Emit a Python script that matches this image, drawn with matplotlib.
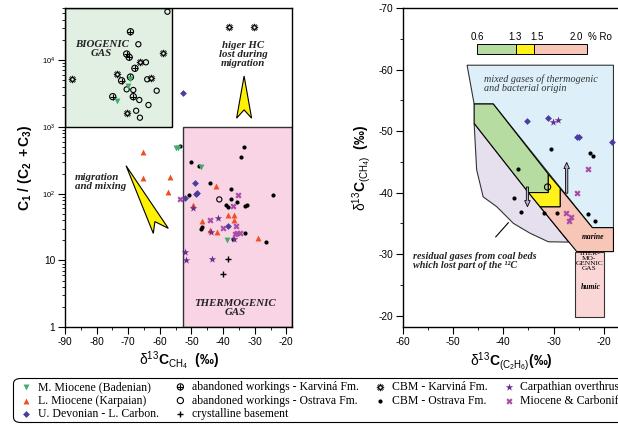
import matplotlib
matplotlib.use("Agg")
import matplotlib.pyplot as plt
from matplotlib.patches import Polygon, Rectangle, FancyArrow, FancyBboxPatch
from matplotlib.legend_handler import HandlerTuple
from matplotlib.ticker import MultipleLocator, NullFormatter, LogLocator

plt.rcParams['font.family'] = ['Liberation Sans', 'DejaVu Sans']
plt.rcParams['mathtext.fontset'] = 'custom'
plt.rcParams['mathtext.rm'] = 'Liberation Sans'
plt.rcParams['mathtext.it'] = 'Liberation Sans:italic'
plt.rcParams['mathtext.bf'] = 'Liberation Sans:bold'
plt.rcParams['axes.unicode_minus'] = False

# ---------------- data: left plot (d13C CH4 vs C1/(C2+C3)) ----------------
mmio_x = [-69.4, -70.1, -73.4, -54.9, -54.2, -46.9, -38.8]
mmio_y = [5140, 4080, 2460, 476, 476, 248, 20]

lmio_x = [-65.2, -65.4, -56.8, -57.3, -49.6, -42.2, -38.6, -36.7, -36.7, -46.7, -44.1, -42.0, -29.1]
lmio_y = [424, 173, 179, 107, 67, 130, 48, 48, 41, 39, 29, 27, 22]

udev_x = [-52.6, -48.9, -48.3, -48.5, -52.0, -38.3]
udev_y = [3160, 146, 102, 99, 85, 33]

awk_x = [-69.3, -70.5, -69.7, -67.9, -72.1, -69.3, -74.9, -68.4]
awk_y = [26500, 12300, 11000, 7510, 4900, 5560, 2830, 2830]

awo_x = [-57.6, -66.8, -64.4, -64.0, -70.5, -68.4, -61.0, -66.5, -63.6, -67.5, -66.3, -41.2]
awo_y = [52800, 17200, 9240, 5140, 3640, 3560, 3470, 2520, 2120, 1740, 1370, 82]

cryst_x = [-38.5, -40.1]
cryst_y = [10.4, 6.25]

cbmk_x = [-58.9, -66.2, -62.9, -87.8, -73.6, -70.3, -38.2, -30.2]
cbmk_y = [12600, 9430, 5320, 5140, 6240, 1590, 30900, 30900]

cbmo_x = [-53.6, -33.4, -34.4, -50.1, -47.7, -44.1, -37.6, -50.7, -24.3, -37.5, -35.7,
          -39.1, -38.6, -33.0, -32.5, -46.7, -47.1, -33.0, -26.5, -36.8]
cbmo_y = [521, 493, 357, 297, 262, 143, 116, 95, 94, 84, 76,
          68, 64, 65, 67, 32, 30, 25.4, 19, 21]

carp_x = [-49.6, -41.5, -43.9, -52.0, -51.7, -43.4, -36.5]
carp_y = [60, 43, 27, 13.5, 10.1, 10.7, 21]

mioc_x = [-53.6, -35.2, -37.0, -44.1, -39.9, -35.9, -36.2, -35.5, -34.8]
mioc_y = [82, 95, 65, 40, 31, 33, 25, 25.4, 26]

# ---------------- data: right plot (d13C C2H6 vs d13C CH4) ----------------
r_udev_x = [-35.2, -31.1, -25.4, -25.0, -18.3]
r_udev_y = [-51.7, -52.2, -49.0, -49.0, -48.2]
r_carp_x = [-30.1, -29.1]
r_carp_y = [-51.5, -51.8]
r_cbmo_x = [-30.6, -22.8, -22.1, -37.0, -37.9, -36.5, -31.9, -29.4, -23.1, -21.8]
r_cbmo_y = [-47.1, -46.5, -46.0, -43.9, -39.1, -36.9, -36.6, -36.6, -36.5, -35.4]
r_mioc_x = [-23.2, -25.4, -27.5, -26.5, -27.0]
r_mioc_y = [-43.9, -39.9, -36.6, -36.1, -35.4]
r_awo_x = [-31.2]
r_awo_y = [-40.9]

# genetic fields of the right diagram (x = d13C C2H6, y = d13C CH4)
mixed_field = [(-47.2, -60.7), (-18.1, -60.7), (-18.1, -34.3), (-22.3, -34.3),
               (-42.0, -54.4), (-45.8, -54.4)]
residual_field = [(-45.8, -51.25), (-45.3, -43.7), (-44.0, -39.3), (-41.3, -37.7),
                  (-38.0, -35.0), (-34.7, -33.4), (-31.05, -32.0), (-27.0, -31.95),
                  (-32.7, -37.7), (-35.0, -40.0)]
ro_06_13 = [(-45.8, -54.4), (-42.0, -54.4), (-31.05, -43.0), (-31.05, -40.0),
            (-35.0, -40.0), (-45.8, -51.25)]
ro_13_15 = [(-31.05, -43.0), (-28.7, -40.7), (-28.7, -37.7), (-32.7, -37.7),
            (-35.0, -40.0), (-31.05, -40.0)]
ro_15_20 = [(-28.7, -40.7), (-22.3, -34.3), (-18.1, -34.3), (-18.1, -30.4),
            (-25.4, -30.4), (-32.7, -37.7), (-28.7, -37.7)]
humic_box = [(-25.7, -30.4), (-20.0, -30.4), (-20.0, -19.8), (-25.7, -19.8)]

ro_ticks = ["0.6", "1.3", "1.5", "2.0"]

C_GREEN = '#3fae6a'
C_RED = '#f04e23'
C_BLUE = '#4b3c9e'
C_PURPLE = '#6a2c91'
C_MAGENTA = '#a94ca6'

fig = plt.figure(figsize=(6.18, 4.24), dpi=100)
ax1 = fig.add_axes([65 / 618, 96.7 / 424, 227 / 618, 319.3 / 424])
ax2 = fig.add_axes([402.7 / 618, 96.7 / 424, 217.3 / 618, 319.3 / 424])

serif = ['Liberation Serif', 'DejaVu Serif']

# ---------------- left plot ----------------
ax1.set_yscale('log')
ax1.set_xlim(-90, -18.2)
ax1.set_ylim(1, 60000)

ax1.add_patch(Rectangle((-90, 1000), 34, 59000, facecolor='#e1f0e3', edgecolor='black', lw=1.0, zorder=1))
ax1.add_patch(Rectangle((-52.7, 1), 34.5, 999, facecolor='#f8d4e4', edgecolor='#333333', lw=1.0, zorder=1))

# yellow arrows (axes fraction)
ax1.add_patch(Polygon([(0.789, 0.787), (0.822, 0.655), (0.789, 0.681), (0.756, 0.655)],
                      closed=True, transform=ax1.transAxes, facecolor='#fff200',
                      edgecolor='black', lw=0.8, zorder=2))
ax1.add_patch(Polygon([(0.269, 0.506), (0.455, 0.310), (0.396, 0.331), (0.389, 0.294)],
                      closed=True, transform=ax1.transAxes, facecolor='#fff200',
                      edgecolor='black', lw=0.8, zorder=2))

txt = dict(family=serif, style='italic', weight='bold', fontsize=7.8, color='#222222')
ax1.text(-78.4, 14400, "BIOGENIC\nGAS", ha='center', va='center', linespacing=1.0, **txt)
ax1.text(-33.6, 12000, "higer HC\nlost during\nmigration", ha='center', va='center', linespacing=1.0, **txt)
ax1.text(-86.9, 149, "migration\nand mixing", ha='left', va='center', linespacing=1.0, **txt)
ax1.text(-36.3, 1.97, "THERMOGENIC\nGAS", ha='center', va='center', linespacing=1.0, **txt)

ax1.scatter(awo_x, awo_y, s=14, marker='o', facecolor='none', edgecolor='black', lw=0.8, zorder=3)
ax1.scatter(awk_x, awk_y, s=20, marker='o', facecolor='none', edgecolor='black', lw=0.8, zorder=3)
ax1.scatter(awk_x, awk_y, s=20, marker='+', color='black', lw=0.8, zorder=3)
ax1.scatter(cbmk_x, cbmk_y, s=30, marker=(12, 1, 0), color='black', lw=0.3, zorder=3)
ax1.scatter(cbmk_x, cbmk_y, s=3, marker='o', color='white', lw=0, zorder=3)
ax1.scatter(cbmo_x, cbmo_y, s=9, marker='o', color='black', lw=0, zorder=3)
ax1.scatter(cryst_x, cryst_y, s=22, marker='+', color='black', lw=1.0, zorder=3)
ax1.scatter(mmio_x, mmio_y, s=18, marker='v', color=C_GREEN, lw=0, zorder=4)
ax1.scatter(lmio_x, lmio_y, s=18, marker='^', color=C_RED, lw=0, zorder=4)
ax1.scatter(udev_x, udev_y, s=12, marker='D', color=C_BLUE, lw=0, zorder=4)
ax1.scatter(carp_x, carp_y, s=32, marker='*', color=C_PURPLE, lw=0, zorder=4)
ax1.scatter(mioc_x, mioc_y, s=20, marker='X', color=C_MAGENTA, lw=0, zorder=4)

ax1.xaxis.set_major_locator(MultipleLocator(10))
ax1.xaxis.set_minor_locator(MultipleLocator(5))
ax1.set_yticks([1, 10, 100, 1000, 10000], ['1', '10', r'$10^2$', r'$10^3$', r'$10^4$'])
ax1.yaxis.set_minor_locator(LogLocator(base=10, subs=range(2, 10)))
ax1.yaxis.set_minor_formatter(NullFormatter())

ax1.set_xlabel(r'δ$^{13}\mathbf{C}_{\mathrm{CH_4}}$  $\mathbf{(‰)}$', fontsize=10, labelpad=2)
ax1.set_ylabel(r'$\mathbf{C_1\ /\ (C_2\ +C_3)}$', fontsize=10, labelpad=6)

# ---------------- right plot ----------------
ax2.set_xlim(-60, -16.8)
ax2.set_ylim(-18.1, -70)

ax2.add_patch(Polygon(mixed_field, closed=True, facecolor='#ddf0f9', edgecolor='#333333', lw=0.8, zorder=1))
ax2.add_patch(Polygon(residual_field, closed=True, facecolor='#e6e0ee', edgecolor='#333333', lw=0.8, zorder=1))
ax2.add_patch(Polygon(ro_06_13, closed=True, facecolor='#b7dca1', edgecolor='black', lw=0.8, zorder=1))
ax2.add_patch(Polygon(ro_15_20, closed=True, facecolor='#f8c6b6', edgecolor='black', lw=0.8, zorder=1))
ax2.add_patch(Polygon(ro_13_15, closed=True, facecolor='#fff21a', edgecolor='black', lw=0.8, zorder=1))
ax2.add_patch(Polygon(humic_box, closed=True, facecolor='#fad6d6', edgecolor='#333333', lw=0.8, zorder=1))

# % Ro scale bar
ax2.add_patch(Rectangle((-45.3, -64.1), 7.8, 1.5, facecolor='#b7dca1', edgecolor='black', lw=0.7, zorder=1))
ax2.add_patch(Rectangle((-37.5, -64.1), 3.6, 1.5, facecolor='#fff21a', edgecolor='black', lw=0.7, zorder=1))
ax2.add_patch(Rectangle((-33.9, -64.1), 10.5, 1.5, facecolor='#f8c6b6', edgecolor='black', lw=0.7, zorder=1))
for lab, xx in zip(ro_ticks, [-45.1, -37.6, -33.4, -25.5]):
    ax2.text(xx, -65.3, lab, ha='center', va='center', fontsize=7)
ax2.text(-20.8, -65.3, "% Ro", ha='center', va='center', fontsize=7)

# maturity arrows
for x0, y0, dy in [(-27.4, -39.9, -5.0), (-35.2, -40.9, 3.2)]:
    ax2.add_patch(FancyArrow(x0, y0, 0, dy, width=0.45, head_width=1.1, head_length=1.0,
                             length_includes_head=True, facecolor='#b8b0cc',
                             edgecolor='black', lw=0.6, zorder=2))

ax2.text(-43.8, -57.7, "mixed gases of thermogenic\nand bacterial origin", ha='left', va='center',
         family=serif, style='italic', fontsize=7.3, color='#333333', linespacing=1.05)
ax2.text(-57.9, -28.9, "residual gases from coal beds\nwhich lost part of the ¹²C", ha='left',
         va='center', family=serif, style='italic', weight='bold', fontsize=7.3,
         color='#222222', linespacing=1.1)
ax2.plot([-41.5, -39.0], [-32.8, -35.1], color='black', lw=0.8, zorder=2)
ax2.text(-22.1, -32.8, "marine", ha='center', va='center', family=serif, style='italic',
         weight='bold', fontsize=5.5)
ax2.text(-22.9, -28.9, "THER-\nMO-\nGENNIC\nGAS", ha='center', va='center', family=serif,
         fontsize=5.3, linespacing=0.95)
ax2.text(-22.7, -24.7, "humic", ha='center', va='center', family=serif, style='italic',
         weight='bold', fontsize=5.5)

ax2.scatter(r_udev_x, r_udev_y, s=12, marker='D', color=C_BLUE, lw=0, zorder=4)
ax2.scatter(r_carp_x, r_carp_y, s=32, marker='*', color=C_PURPLE, lw=0, zorder=4)
ax2.scatter(r_cbmo_x, r_cbmo_y, s=9, marker='o', color='black', lw=0, zorder=4)
ax2.scatter(r_mioc_x, r_mioc_y, s=20, marker='X', color=C_MAGENTA, lw=0, zorder=4)
ax2.scatter(r_awo_x, r_awo_y, s=20, marker='o', facecolor='none', edgecolor='black', lw=0.8, zorder=4)

ax2.xaxis.set_major_locator(MultipleLocator(10))
ax2.xaxis.set_minor_locator(MultipleLocator(5))
ax2.yaxis.set_major_locator(MultipleLocator(10))
ax2.yaxis.set_minor_locator(MultipleLocator(5))
ax2.spines['right'].set_visible(False)
ax2.set_xlabel(r'δ$^{13}\mathbf{C}_{\mathrm{(C_2H_6)}}\mathbf{(‰)}$', fontsize=10, labelpad=2)
ax2.set_ylabel(r'δ$^{13}\mathbf{C}_{\mathrm{(CH_4)}}$  $\mathbf{(‰)}$', fontsize=10, labelpad=4)

for ax in (ax1, ax2):
    ax.tick_params(which='major', direction='out', length=5, width=0.8, labelsize=7.3, pad=2)
    ax.tick_params(which='minor', direction='out', length=2.5, width=0.6)
    for sp in ax.spines.values():
        sp.set_linewidth(1.0)
for lab in ax1.get_yticklabels()[2:]:
    lab.set_fontsize(5.5)

# ---------------- legend ----------------
h_mmio = ax1.scatter([], [], s=18, marker='v', color=C_GREEN, lw=0)
h_lmio = ax1.scatter([], [], s=18, marker='^', color=C_RED, lw=0)
h_udev = ax1.scatter([], [], s=12, marker='D', color=C_BLUE, lw=0)
h_awk = (ax1.scatter([], [], s=20, marker='o', facecolor='none', edgecolor='black', lw=0.8),
         ax1.scatter([], [], s=20, marker='+', color='black', lw=0.8))
h_awo = ax1.scatter([], [], s=20, marker='o', facecolor='none', edgecolor='black', lw=0.8)
h_cry = ax1.scatter([], [], s=22, marker='+', color='black', lw=1.0)
h_cbmk = (ax1.scatter([], [], s=30, marker=(12, 1, 0), color='black', lw=0.3),
          ax1.scatter([], [], s=3, marker='o', color='white', lw=0))
h_cbmo = ax1.scatter([], [], s=9, marker='o', color='black', lw=0)
h_carp = ax1.scatter([], [], s=32, marker='*', color=C_PURPLE, lw=0)
h_mioc = ax1.scatter([], [], s=20, marker='X', color=C_MAGENTA, lw=0)

handles = [h_mmio, h_lmio, h_udev, h_awk, h_awo, h_cry, h_cbmk, h_cbmo, h_carp, h_mioc]
labels = ["M. Miocene (Badenian)", "L. Miocene (Karpaian)", "U. Devonian - L. Carbon.",
          "abandoned workings - Karviná Fm.", "abandoned workings - Ostrava Fm.",
          "crystalline basement", "CBM - Karviná Fm.", "CBM - Ostrava Fm.",
          "Carpathian overthrust", "Miocene & Carboniferous"]

# legend frame runs past the right edge of the figure, as in the original
frame = FancyBboxPatch((13.5 / 618, 1 - 422.5 / 424), 640 / 618, 44 / 424,
                       boxstyle='round,pad=0,rounding_size=0.012', transform=fig.transFigure,
                       facecolor='white', edgecolor='black', lw=0.8, zorder=0)
fig.patches.append(frame)
leg = fig.legend(handles, labels, ncol=4, loc='upper left', bbox_to_anchor=(21 / 618, 1 - 381 / 424),
                 prop={'family': serif, 'size': 8.5}, frameon=False, handlelength=0.9,
                 handletextpad=0.5, columnspacing=1.4, labelspacing=0.14, borderpad=0,
                 borderaxespad=0, handler_map={tuple: HandlerTuple(ndivide=1)})

fig.savefig("out.png", dpi=100)
